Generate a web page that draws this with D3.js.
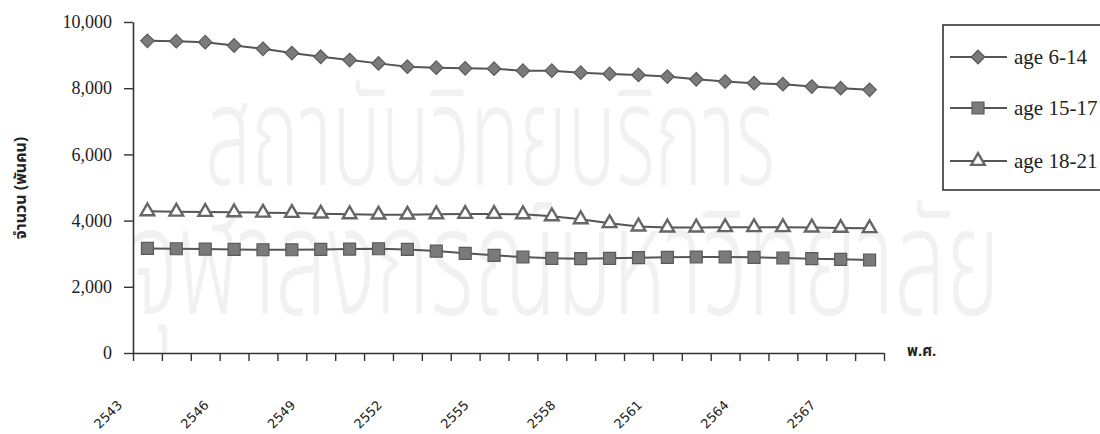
<!DOCTYPE html>
<html>
<head>
<meta charset="utf-8">
<script src="https://cdn.jsdelivr.net/npm/d3@7"></script>
<style>
  html, body { margin: 0; padding: 0; background: #ffffff; }
  svg { display: block; }
</style>
</head>
<body>
<svg id="chart" width="1100" height="434"></svg>
<script>
// Projected school-age population (thousands), Buddhist Era years
const years = [2543, 2544, 2545, 2546, 2547, 2548, 2549, 2550, 2551, 2552, 2553, 2554, 2555,
               2556, 2557, 2558, 2559, 2560, 2561, 2562, 2563, 2564, 2565, 2566, 2567, 2568];
const age6to14 = [9430, 9420, 9390, 9290, 9190, 9060, 8950, 8850, 8750, 8650, 8620, 8600, 8590,
                  8530, 8530, 8470, 8430, 8400, 8350, 8270, 8200, 8150, 8120, 8050, 8000, 7950];
const age15to17 = [3160, 3150, 3140, 3130, 3120, 3120, 3130, 3140, 3150, 3130, 3080, 3010, 2950,
                   2900, 2860, 2850, 2860, 2880, 2890, 2900, 2900, 2890, 2870, 2850, 2830, 2810];
const age18to21 = [4280, 4270, 4260, 4250, 4240, 4230, 4210, 4190, 4180, 4180, 4190, 4200, 4200,
                   4190, 4130, 4040, 3920, 3820, 3790, 3790, 3800, 3800, 3800, 3790, 3780, 3770];
const seriesNames = ["age 6-14", "age 15-17", "age 18-21"];
const yTicks = [0, 2000, 4000, 6000, 8000, 10000];
const xLabelYears = [2543, 2546, 2549, 2552, 2555, 2558, 2561, 2564, 2567];
const yTitle = "จำนวน (พันคน)";
const xTitle = "พ.ศ.";
const watermarkLines = ["สถาบันวิทยบริการ", "จุฬาลงกรณ์มหาวิทยาลัย"];

const thaiFont = "'Noto Sans Thai', 'Noto Sans Thai UI', 'Noto Sans', 'DejaVu Sans', sans-serif";
const serifFont = "'Liberation Serif', 'DejaVu Serif', serif";
const sansFont = "'DejaVu Sans', 'Liberation Sans', sans-serif";
const ink = "#222";
const lineColor = "#555";

const svg = d3.select("#chart");

// faint institutional watermark behind the plot, squeezed to its span
const wm = svg.append("g").attr("fill", "#f1f1f1").style("font-family", thaiFont)
  .style("font-weight", "300");
[
  { text: watermarkLines[0], x: 205, y: 185, width: 570, size: 140 },
  { text: watermarkLines[1], x: 130, y: 314, width: 870, size: 150 }
].forEach(w => {
  const t = wm.append("text").style("font-size", w.size + "px").text(w.text);
  const natural = t.node().getComputedTextLength();
  t.attr("transform", `translate(${w.x},${w.y}) scale(${w.width / natural},1)`);
});

// scales: category index on x (ticks at category boundaries), value on y
const axisX = 133;
const xi = d3.scaleLinear().domain([0, years.length]).range([axisX, 884]);
const xc = i => xi(i + 0.5);
const y = d3.scaleLinear().domain([0, 10000]).range([353, 22]);

// y axis
const gy = svg.append("g")
  .attr("transform", `translate(${axisX},0)`)
  .call(d3.axisLeft(y).tickValues(yTicks).tickSize(9).tickSizeOuter(0)
        .tickPadding(12).tickFormat(d3.format(",")));
gy.selectAll("text").style("font-family", serifFont).style("font-size", "18px").attr("fill", ink);

// x axis
const gx = svg.append("g")
  .attr("transform", `translate(0,${y(0)})`)
  .call(d3.axisBottom(xi).tickValues(d3.range(0, years.length + 1))
        .tickSize(8).tickSizeOuter(0).tickFormat(""));

[gx, gy].forEach(g => {
  g.select(".domain").attr("stroke", "#333").attr("stroke-width", 1.6);
  g.selectAll(".tick line").attr("stroke", "#333").attr("stroke-width", 1.4);
});

// rotated year labels, every third year
svg.append("g").selectAll("text")
  .data(xLabelYears)
  .join("text")
  .attr("transform", d => `translate(${xi(years.indexOf(d)) - 10},406) rotate(-45)`)
  .attr("text-anchor", "end")
  .style("font-family", sansFont).style("font-size", "13px")
  .attr("fill", ink)
  .text(d => d);

// axis titles
svg.append("text")
  .attr("transform", "translate(26,188) rotate(-90)")
  .attr("text-anchor", "middle")
  .style("font-family", thaiFont).style("font-size", "16px").style("font-weight", "bold")
  .attr("fill", ink)
  .text(yTitle);
svg.append("text")
  .attr("x", 907).attr("y", 356)
  .style("font-family", thaiFont).style("font-size", "15px").style("font-weight", "bold")
  .attr("fill", ink)
  .text(xTitle);

// marker shapes
const diamond = {
  draw(ctx, size) {
    const r = Math.sqrt(size / 2);
    ctx.moveTo(0, -r); ctx.lineTo(r, 0); ctx.lineTo(0, r); ctx.lineTo(-r, 0); ctx.closePath();
  }
};
const series = [
  { name: seriesNames[0], values: age6to14, symbol: d3.symbol(diamond, 92),
    fill: "#7b7b7b", stroke: "#5a5a5a", sw: 1.2 },
  { name: seriesNames[1], values: age15to17, symbol: d3.symbol(d3.symbolSquare, 144),
    fill: "#7a7a7a", stroke: "#5a5a5a", sw: 1.2 },
  { name: seriesNames[2], values: age18to21, symbol: d3.symbol(d3.symbolTriangle, 80),
    fill: "#ffffff", stroke: "#666", sw: 2.4 }
];

const line = d3.line().x((d, i) => xc(i)).y(d => y(d));

series.forEach(s => {
  const g = svg.append("g");
  g.append("path")
    .attr("d", line(s.values))
    .attr("fill", "none").attr("stroke", lineColor).attr("stroke-width", 2);
  g.selectAll("path.mark")
    .data(s.values)
    .join("path")
    .attr("class", "mark")
    .attr("transform", (d, i) => `translate(${xc(i)},${y(d)})`)
    .attr("d", s.symbol())
    .attr("fill", s.fill).attr("stroke", s.stroke).attr("stroke-width", s.sw);
});

// legend
const lg = svg.append("g");
lg.append("rect")
  .attr("x", 943).attr("y", 25).attr("width", 200).attr("height", 165)
  .attr("fill", "#fff").attr("stroke", "#333").attr("stroke-width", 1.6);
const rowY = [57, 108, 161];
series.forEach((s, k) => {
  const ry = rowY[k];
  lg.append("line")
    .attr("x1", 950).attr("x2", 1007).attr("y1", ry).attr("y2", ry)
    .attr("stroke", lineColor).attr("stroke-width", 2);
  lg.append("path")
    .attr("transform", `translate(978,${ry})`)
    .attr("d", s.symbol())
    .attr("fill", s.fill).attr("stroke", s.stroke).attr("stroke-width", s.sw);
  lg.append("text")
    .attr("x", 1014).attr("y", ry + 7)
    .style("font-family", serifFont).style("font-size", "21px")
    .attr("fill", ink)
    .text(s.name);
});
</script>
</body>
</html>
